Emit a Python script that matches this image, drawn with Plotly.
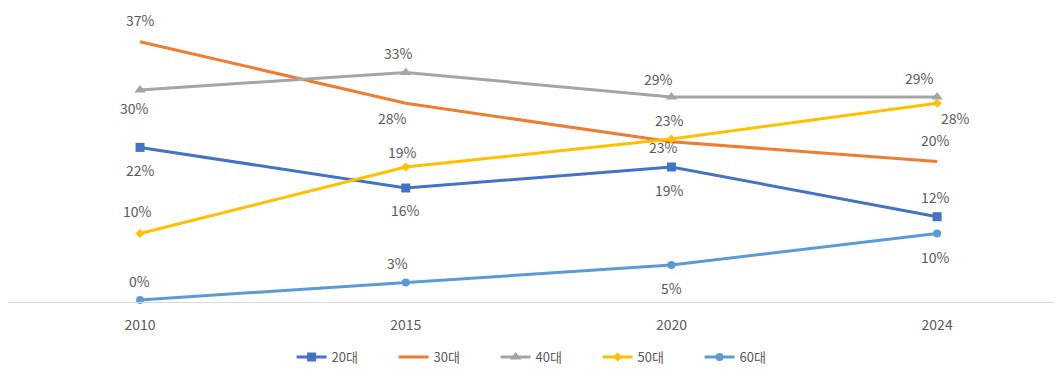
import plotly.graph_objects as go

years = ["2010", "2015", "2020", "2024"]
series_names = ["20대", "30대", "40대", "50대", "60대"]
v20 = [21.8, 16.0, 19.0, 11.9]
v30 = [36.9, 28.1, 22.6, 19.8]
v40 = [30.0, 32.5, 29.0, 29.0]
v50 = [9.5, 19.0, 23.0, 28.1]
v60 = [0.0, 2.5, 5.0, 9.5]
values = [v20, v30, v40, v50, v60]

colors = ["#4472C4", "#ED7D31", "#A5A5A5", "#FFC000", "#5B9BD5"]
symbols = ["square", None, "triangle-up", "diamond", "circle"]
sizes = [9, 0, 10, 7, 8]
# label offsets (px) relative to each point: (xshift, yshift), positive y = up
label_shifts = [
    [(0, -23), (0, -22), (-2, -23), (-2, 20)],
    [(0, 22), (-13, -15), (-8, -5), (-2, 21)],
    [(-6, -18), (-7, 20), (-13, 18), (-18, 19)],
    [(-3, 23), (-3, 15), (-2, 19), (18, -15)],
    [(-1, 19), (-8, 20), (0, -23), (-2, -23)],
]


def pct(v):
    # round half up, like the chart's data labels
    return f"{int(v + 0.5)}%"


FONT = "Noto Sans CJK KR, Malgun Gothic, sans-serif"
TXT = "#595959"
fig = go.Figure()
annotations = []
for name, vals, col, sym, sz, shifts in zip(series_names, values, colors, symbols, sizes, label_shifts):
    kw = {}
    if sym is None:
        mode = "lines"
    else:
        mode = "lines+markers"
        kw["marker"] = dict(symbol=sym, size=sz, color=col)
    fig.add_trace(go.Scatter(
        x=years, y=vals, name=name, mode=mode,
        line=dict(color=col, width=3), cliponaxis=False, **kw))
    for i, (v, (dx, dy)) in enumerate(zip(vals, shifts)):
        annotations.append(go.layout.Annotation(
            x=i, y=v, xref="x", yref="y", text=pct(v),
            showarrow=False, xshift=dx, yshift=dy,
            font=dict(size=14, color=TXT, family=FONT)))

# page has an 8px body margin (figure origin at 8,8 in the window)
fig.update_layout(
    width=1054, height=369,
    margin=dict(l=0, r=0, t=0, b=75),
    paper_bgcolor="white", plot_bgcolor="white",
    font=dict(family=FONT, color=TXT, size=13),
    showlegend=True,
    legend=dict(orientation="h", x=0.511, xanchor="center", y=-0.187, yanchor="middle",
                font=dict(size=13, color=TXT), entrywidth=57, entrywidthmode="pixels",
                traceorder="normal"),
    xaxis=dict(type="category", range=[-0.497, 3.47], showgrid=False, zeroline=False,
               showline=True, linecolor="#D9D9D9", linewidth=1, ticks="",
               ticklabelstandoff=10,
               tickfont=dict(size=14, color=TXT)),
    yaxis=dict(range=[-2 / 7, 292 / 7], showgrid=False, zeroline=False, showline=False,
               showticklabels=False, ticks=""),
)
for a in annotations:
    fig.add_annotation(a)
fig.write_html("out.html")
